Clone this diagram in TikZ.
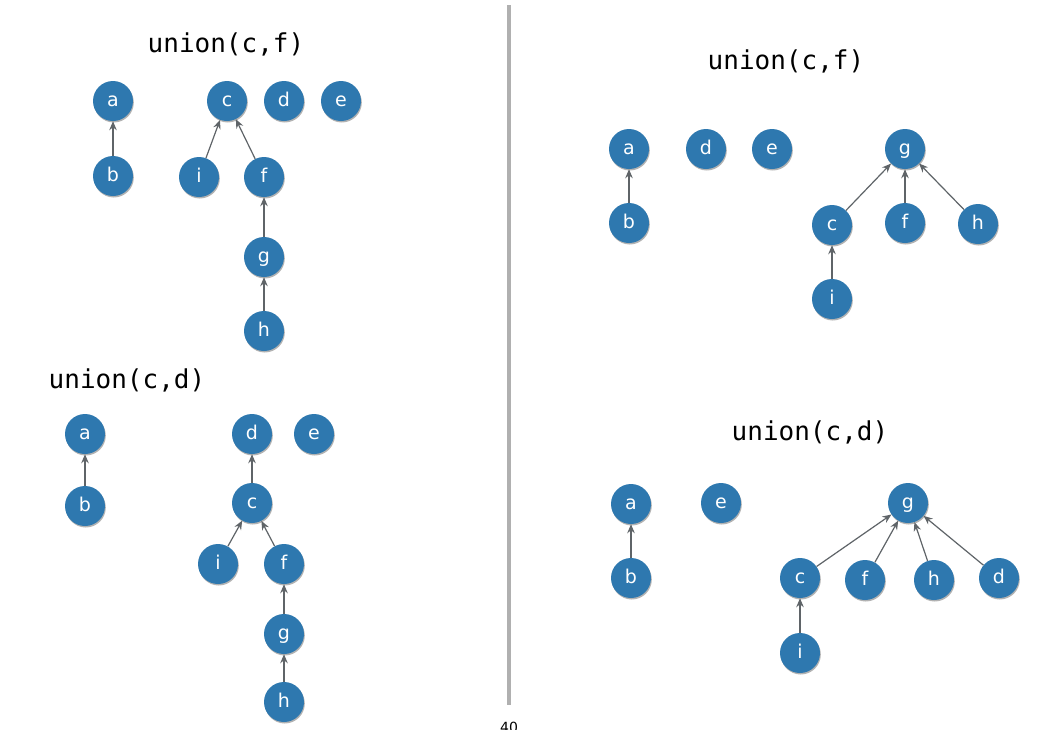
\documentclass[tikz,border=0pt]{standalone}
\usepackage{fontspec}
\setmainfont{DejaVu Sans}
\newfontfamily\titlefont{DejaVu Sans Mono}
\usetikzlibrary{shadows,arrows.meta}
\definecolor{nodeblue}{HTML}{2E78AF}
\definecolor{edgegray}{HTML}{5F6468}
\definecolor{divgray}{HTML}{B0B0B0}
\tikzset{
  vert/.style={circle, fill=nodeblue, draw=none, minimum size=40pt, inner sep=0pt,
    text=white, font=\fontsize{19}{19}\selectfont, text height=11.5pt, text depth=0pt,
    drop shadow={shadow xshift=0.8pt, shadow yshift=-1.5pt, opacity=0.3, fill=black}},
  edge/.style={draw=edgegray, line width=1.2pt, -{Stealth[length=9pt,width=7.5pt]}},
  ttl/.style={font=\titlefont\fontsize{26}{26}\selectfont, text=black},
}
\begin{document}
\begin{tikzpicture}[x=1pt,y=-1pt]
\useasboundingbox (0,0) rectangle (1053,729);
\fill[white] (0,0) rectangle (1053,729);
% divider
\draw[divgray, line width=4pt] (509,5) coordinate (dtop) -- (509,705) coordinate (dbot);
\node[font=\fontsize{14}{14}\selectfont, anchor=north] (pg) at (509,719) {40};

% ---------- top left ----------
\node[ttl] (t1) at (226,44) {union(c,f)};
\node[vert] (A1) at (113,101) {a};
\node[vert] (C1) at (227,101) {c};
\node[vert] (D1) at (284,101) {d};
\node[vert] (E1) at (341,101) {e};
\node[vert] (B1) at (113,176) {b};
\node[vert] (I1) at (199,177) {i};
\node[vert] (F1) at (264,177) {f};
\node[vert] (G1) at (264,257) {g};
\node[vert] (H1) at (264,331) {h};
\draw[edge] (B1) -- (A1);
\draw[edge] (I1) -- (C1);
\draw[edge] (F1) -- (C1);
\draw[edge] (G1) -- (F1);
\draw[edge] (H1) -- (G1);

% ---------- bottom left ----------
\node[ttl] (t2) at (127,380) {union(c,d)};
\node[vert] (A2) at (85,434) {a};
\node[vert] (D2) at (252,434) {d};
\node[vert] (E2) at (314,434) {e};
\node[vert] (B2) at (85,506) {b};
\node[vert] (C2) at (252,503) {c};
\node[vert] (I2) at (218,564) {i};
\node[vert] (F2) at (284,564) {f};
\node[vert] (G2) at (284,634) {g};
\node[vert] (H2) at (284,702) {h};
\draw[edge] (B2) -- (A2);
\draw[edge] (C2) -- (D2);
\draw[edge] (I2) -- (C2);
\draw[edge] (F2) -- (C2);
\draw[edge] (G2) -- (F2);
\draw[edge] (H2) -- (G2);

% ---------- top right ----------
\node[ttl] (t3) at (786,61) {union(c,f)};
\node[vert] (A3) at (629,149) {a};
\node[vert] (D3) at (706,149) {d};
\node[vert] (E3) at (772,149) {e};
\node[vert] (G3) at (905,149) {g};
\node[vert] (B3) at (629,223) {b};
\node[vert] (C3) at (832,225) {c};
\node[vert] (F3) at (905,223) {f};
\node[vert] (H3) at (978,224) {h};
\node[vert] (I3) at (832,299) {i};
\draw[edge] (B3) -- (A3);
\draw[edge] (C3) -- (G3);
\draw[edge] (F3) -- (G3);
\draw[edge] (H3) -- (G3);
\draw[edge] (I3) -- (C3);

% ---------- bottom right ----------
\node[ttl] (t4) at (810,432) {union(c,d)};
\node[vert] (A4) at (631,504) {a};
\node[vert] (E4) at (721,503) {e};
\node[vert] (G4) at (908,503) {g};
\node[vert] (B4) at (631,578) {b};
\node[vert] (C4) at (800,578) {c};
\node[vert] (F4) at (865,580) {f};
\node[vert] (H4) at (934,580) {h};
\node[vert] (D4) at (999,578) {d};
\node[vert] (I4) at (800,653) {i};
\draw[edge] (B4) -- (A4);
\draw[edge] (C4) -- (G4);
\draw[edge] (F4) -- (G4);
\draw[edge] (H4) -- (G4);
\draw[edge] (D4) -- (G4);
\draw[edge] (I4) -- (C4);
\end{tikzpicture}
\end{document}
